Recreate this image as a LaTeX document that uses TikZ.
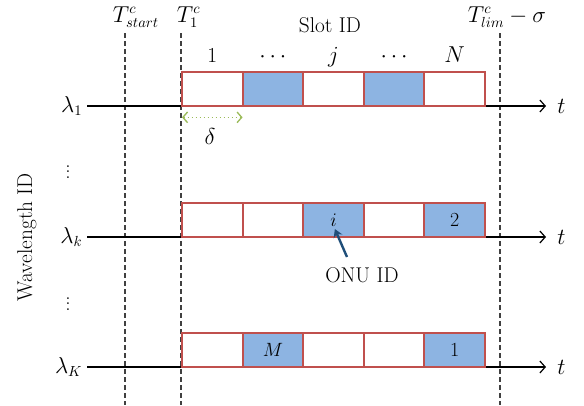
\documentclass[tikz,border=0pt]{standalone}
\usepackage{tikz}
\usetikzlibrary{arrows.meta,positioning}

\definecolor{slotred}{RGB}{192,80,77}
\definecolor{slotblue}{RGB}{141,180,226}
\definecolor{deltagreen}{RGB}{155,187,89}
\definecolor{onublue}{RGB}{31,78,121}

\tikzset{
    slot/.style={draw=slotred, line width=1.5pt, fill=white, minimum width=45.45pt,
        minimum height=25.5pt, inner sep=0pt, outer sep=0pt, anchor=south west,
        font=\fontsize{15}{17}\selectfont},
    busy/.style={slot, fill=slotblue},
    timeline/.style={line width=0.9pt, -{Straight Barb[length=4pt,width=9pt]}},
    marker/.style={line width=0.8pt, black!75, dash pattern=on 3.5pt off 2.5pt},
    gap/.style={deltagreen, line width=1pt, dotted,
        {Straight Barb[length=3.5pt,width=8pt]}-{Straight Barb[length=3.5pt,width=8pt]}},
    pointer/.style={onublue, line width=1.8pt, -{Stealth[length=6pt,width=7pt]}},
    toplabel/.style={anchor=base west, inner sep=0.5pt},
}

\begin{document}
\begin{tikzpicture}[x=0.75pt, y=-0.75pt, font=\fontsize{16}{19}\selectfont]
    \useasboundingbox (0,0) rectangle (584,405);

    % Dashed time markers
    \foreach \mx/\mn in {125/start, 181/first, 500/lim} {
        \coordinate (\mn top) at (\mx,33);
        \coordinate (\mn bot) at (\mx,405);
        \draw[marker] (\mn top) -- (\mn bot);
    }
    \node[toplabel] (tstart) at (112,22) {$T^{c}_{start}$};
    \node[toplabel] (tfirst) at (176,22) {$T^{c}_{1}$};
    \node[toplabel] (tlim) at (467,22) {$T^{c}_{lim}-\sigma$};
    \node[anchor=base] (slotid) at (330,32) {Slot ID};

    % Wavelength axes
    \foreach \r/\ry/\lam in {1/106/\lambda_1, k/237/\lambda_k, K/367/\lambda_K} {
        \coordinate (ax\r) at (87,\ry);
        \coordinate (tip\r) at (546,\ry);
        \node[left=0pt of ax\r] (lam\r) {$\lam$};
        \draw[timeline] (ax\r) -- (tip\r);
        \node[right=5pt of tip\r] (t\r) {$t$};
    }
    \node (vd1) at (68,168) {$\vdots$};
    \node (vd2) at (68,300) {$\vdots$};
    \node[rotate=90, inner sep=0pt] (wlid) at (27,237) {Wavelength ID};

    % Slots of each wavelength
    \foreach \n/\sty/\txt in {1/slot/{}, 2/busy/{}, 3/slot/{}, 4/busy/{}, 5/slot/{}}
        \node[\sty] (r1s\n) at ({182+60.6*(\n-1)},106) {\txt};
    \foreach \n/\sty/\txt in {1/slot/{}, 2/slot/{}, 3/busy/$i$, 4/slot/{}, 5/busy/2}
        \node[\sty] (rks\n) at ({182+60.6*(\n-1)},237) {\txt};
    \foreach \n/\sty/\txt in {1/slot/{}, 2/busy/$M$, 3/slot/{}, 4/slot/{}, 5/busy/1}
        \node[\sty] (rKs\n) at ({182+60.6*(\n-1)},367) {\txt};

    % Slot headers
    \foreach \n/\txt in {1/1, 2/$\cdots$, 3/$j$, 4/$\cdots$, 5/$N$}
        \node[anchor=base] (hd\n) at (r1s\n.center |- 0,62) {\txt};

    % Slot length
    \draw[gap] ([yshift=-8.5pt]r1s1.south west) -- ([yshift=-8.5pt]r1s1.south east);
    \node (delta) at (210,136) {$\delta$};

    % ONU ID pointer
    \node (onu) at (362,275) {ONU ID};
    \coordinate (onutail) at (347,257);
    \draw[pointer] (onutail) -- ([xshift=1pt,yshift=6pt]rks3.south);
\end{tikzpicture}
\end{document}
